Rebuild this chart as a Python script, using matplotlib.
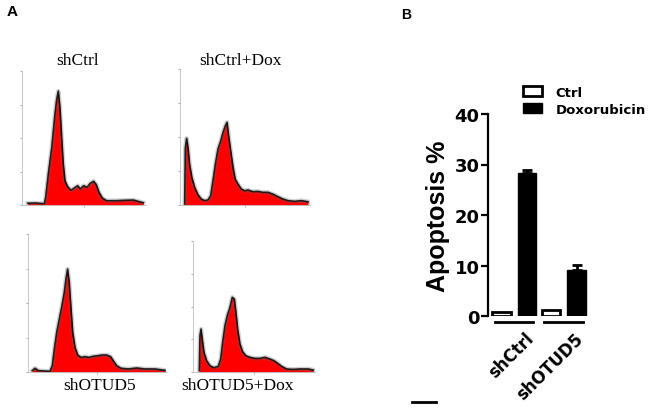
import matplotlib.pyplot as plt
from matplotlib.lines import Line2D

W, H = 653, 410

# Panel A: cell-cycle histograms, channel (0-1000) vs count (% of axis height)
shctrl_ch = [46, 105, 180, 191, 212, 240, 266, 280, 293, 306, 320, 333, 347, 368, 395, 422, 449, 470,
             497, 524, 551, 578, 599, 621, 648, 683, 750, 831, 898, 938, 978]
shctrl_ct = [1.3, 1.5, 1.0, 5.7, 23, 43, 68, 79, 85, 73, 50.5, 30.6, 18, 13.7, 11, 12.7, 14.4, 12,
             14.4, 13.2, 16.2, 17.7, 15.2, 9.5, 5.2, 3.2, 3.2, 3.5, 3.7, 2.7, 1.7]

shctrl_dox_ch = [36, 41, 51, 62, 74, 92, 113, 138, 164, 190, 215, 236, 254, 272, 292, 313, 331, 349,
                 362, 374, 390, 408, 425, 446, 472, 497, 523, 562, 600, 638, 677, 715, 754, 792,
                 831, 882, 933, 985]
shctrl_dox_ct = [0.7, 42, 49, 42, 30, 20, 13, 7.6, 4.4, 3.2, 3.7, 6.9, 18, 30, 41, 47, 53.4, 58.3,
                 60.8, 51, 40, 27.7, 19, 15.4, 11.8, 10.5, 11, 9.8, 10, 9.3, 9.3, 8, 6.1, 4.4,
                 3.2, 2.7, 3.2, 2.4]

shotud5_ch = [31, 51, 75, 159, 176, 191, 208, 227, 244, 263, 275, 287, 299, 312, 324, 341, 360, 384,
              413, 442, 473, 505, 539, 570, 599, 618, 643, 674, 727, 788, 848, 920, 993]
shotud5_ct = [1.0, 2.7, 1.0, 0.5, 4.6, 16.7, 28.7, 38.4, 47, 57.7, 67.4, 74.6, 65, 45.7, 28.7, 17.9,
              12.3, 10.6, 11.1, 10.6, 11.4, 11.8, 12.3, 12.3, 11.1, 8.2, 4.6, 2.7, 2.2, 2.9, 2.2,
              2.2, 1.2]

shotud5_dox_ch = [52, 57, 66, 76, 90, 112, 139, 172, 207, 227, 243, 262, 281, 303, 322, 339, 352, 366,
                  385, 407, 434, 467, 508, 549, 590, 631, 664, 691, 727, 768, 822, 877, 945, 986]
shotud5_dox_ct = [1.0, 27.7, 32.8, 25, 15, 8.6, 4.8, 3.3, 4.3, 9.9, 22.6, 35.4, 43, 49.4, 57, 55.7,
                  45.6, 32.8, 21.4, 15.5, 12.4, 11.2, 10.4, 10.4, 11.2, 9.9, 8.6, 6.9, 4.3, 2.3,
                  2.0, 2.3, 2.3, 1.5]

# Panel B: apoptosis %
groups = ['shCtrl', 'shOTUD5']
ctrl_vals = [0.8, 1.1]
dox_vals = [28.4, 9.2]
dox_err = [0.6, 0.9]

fig = plt.figure(figsize=(W / 100, H / 100), dpi=100)


def px_axes(left, top, right, bottom):
    return fig.add_axes([left / W, 1 - bottom / H, (right - left) / W, (bottom - top) / H])


def histo(box, ch, ct):
    ax = px_axes(*box)
    ax.fill_between(ch, ct, 0, color='#ff0000', lw=0)
    ax.plot(ch, ct, color='0.4', lw=3.2, alpha=0.3)
    ax.plot(ch, ct, color='k', lw=1.2, alpha=0.85)
    ax.set_xlim(0, 1000)
    ax.set_ylim(0, 100)
    for s in ['top', 'right']:
        ax.spines[s].set_visible(False)
    for s in ['left', 'bottom']:
        ax.spines[s].set_color('0.75')
        ax.spines[s].set_linewidth(0.6)
    ax.set_xticks([500])
    ax.set_yticks([0, 25, 50, 75, 100])
    ax.tick_params(length=1.5, color='0.7', labelleft=False, labelbottom=False)
    return ax


histo((22, 72, 146, 206), shctrl_ch, shctrl_ct)
histo((180, 70, 310, 206), shctrl_dox_ch, shctrl_dox_ct)
histo((28, 235, 166, 373), shotud5_ch, shotud5_ct)
histo((193, 242, 315, 373), shotud5_dox_ch, shotud5_dox_ct)

serif = 'Liberation Serif'
fig.text(77.5 / W, 1 - 65 / H, 'shCtrl', family=serif, fontsize=12.5, ha='center', va='baseline')
fig.text(240 / W, 1 - 65 / H, 'shCtrl+Dox', family=serif, fontsize=12.5, ha='center', va='baseline')
fig.text(100 / W, 1 - 390 / H, 'shOTUD5', family=serif, fontsize=12.5, ha='center', va='baseline')
fig.text(238 / W, 1 - 390 / H, 'shOTUD5+Dox', family=serif, fontsize=12.5, ha='center', va='baseline')

fig.text(12 / W, 1 - 12 / H, 'A', family='Liberation Sans', weight='bold', fontsize=11,
         ha='center', va='center')
fig.text(406 / W, 1 - 15 / H, 'B', family='Liberation Sans', weight='bold', fontsize=10,
         ha='center', va='center')

# bar chart
sans = 'Liberation Sans'
wide = 'DejaVu Sans'
ax = px_axes(488, 115, 600, 317)
x = [0, 1]
off, bw = 0.258, 0.374
b1 = ax.bar([i - off for i in x], ctrl_vals, bw, color='white', edgecolor='k', lw=2, label='Ctrl')
b2 = ax.bar([i + off for i in x], dox_vals, bw, color='k', edgecolor='k', lw=1, label='Doxorubicin',
            yerr=[[0, 0], dox_err], capsize=3.5, error_kw=dict(lw=2, capthick=2, ecolor='k'))
ax.set_xlim(-0.53, 1.73)
ax.set_ylim(0, 40)
for s in ['top', 'right', 'bottom']:
    ax.spines[s].set_visible(False)
ax.spines['left'].set_linewidth(1.6)
ax.set_xticks([])
ax.set_yticks([0, 10, 20, 30, 40])
ax.tick_params(axis='y', length=5, width=1.6, pad=1)
for t in ax.get_yticklabels():
    t.set_family(wide)
    t.set_weight('bold')
    t.set_fontsize(13)
ax.set_ylabel('Apoptosis %', family=sans, weight='bold', fontsize=18, labelpad=3)

for i, g in enumerate(groups):
    ax.plot([i - 0.39, i + 0.38], [-1.2, -1.2], color='k', lw=2, clip_on=False)
    ax.text(i + 0.2, -2.6, g, rotation=45, rotation_mode='anchor', ha='right', va='top',
            family=wide, weight='bold', fontsize=12)

ax.legend(handles=[b1, b2], loc='upper left', bbox_to_anchor=(523 / W, 1 - 87 / H),
          bbox_transform=fig.transFigure, frameon=False, prop=dict(family=wide, weight='bold', size=9.5),
          handlelength=1.45, handleheight=0.8, handletextpad=1.0, labelspacing=0.3, borderpad=0,
          borderaxespad=0)

fig.add_artist(Line2D([412 / W, 436 / W], [1 - 403 / H, 1 - 403 / H], color='k', lw=2))

fig.savefig('out.png', dpi=100)
